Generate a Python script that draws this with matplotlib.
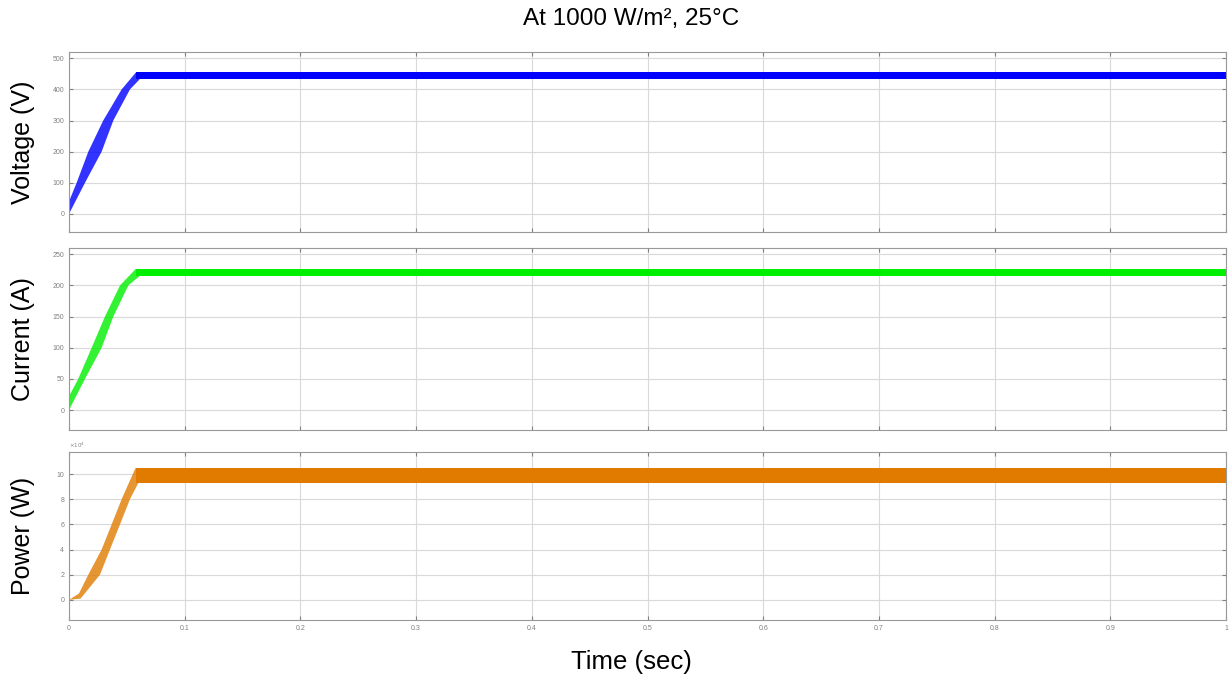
import matplotlib.pyplot as plt
import numpy as np

plt.rcParams["font.family"] = ["Liberation Sans", "DejaVu Sans"]

# envelopes of the switching ripple band
# ramp part: upper and lower edges, each with its own time points
v_t_hi = [0.0, 0.0066, 0.0167, 0.0296, 0.0455, 0.058]
v_hi = [40, 100, 200, 300, 400, 455]
v_t_lo = [0.0, 0.0138, 0.0282, 0.0383, 0.0527, 0.061]
v_lo = [0, 100, 200, 300, 400, 432]
v_steady = (432, 455)

i_t_hi = [0.0, 0.008, 0.0196, 0.0311, 0.0441, 0.058]
i_hi = [22, 50, 100, 150, 200, 227]
i_t_lo = [0.0, 0.0138, 0.0282, 0.0383, 0.0513, 0.061]
i_lo = [0, 50, 100, 150, 200, 215]
i_steady = (215, 227)

# power in units of 1e4 W
p_t_hi = [0.0, 0.0086, 0.0167, 0.0282, 0.0369, 0.0455, 0.0576]
p_hi = [0.0, 0.5, 2, 4, 6, 8, 10.5]
p_t_lo = [0.0, 0.01, 0.0268, 0.0354, 0.0441, 0.0527, 0.06]
p_lo = [0.0, 0.1, 2, 4, 6, 8, 9.3]
p_steady = (9.3, 10.5)

t_end = 1.0
x_ticks = [0, 0.1, 0.2, 0.3, 0.4, 0.5, 0.6, 0.7, 0.8, 0.9, 1]
x_labels = ["0", "0.1", "0.2", "0.3", "0.4", "0.5", "0.6", "0.7", "0.8", "0.9", "1"]


def draw_band(ax, t_hi, hi, t_lo, lo, steady, color):
    # ramp: polygon going along the upper edge and back along the lower edge
    xs = list(t_hi) + list(t_lo)[::-1]
    ys = list(hi) + list(lo)[::-1]
    ax.fill(xs, ys, color=color, alpha=0.8, linewidth=0)
    # steady state ripple band
    ax.fill_between([t_hi[-1], t_end], [steady[0]] * 2, [steady[1]] * 2,
                    color=color, linewidth=0)


def style_axes(ax, ylim, yticks):
    ax.set_xlim(0, 1)
    ax.set_ylim(*ylim)
    ax.set_yticks(yticks)
    ax.set_xticks(x_ticks)
    ax.grid(True, color="#d9d9d9", linewidth=0.8)
    ax.set_axisbelow(True)
    ax.tick_params(direction="in", length=3, labelsize=5, colors="#808080",
                   top=True, right=True)
    for s in ax.spines.values():
        s.set_color("#999999")
        s.set_linewidth(0.8)


fig = plt.figure(figsize=(12.3, 6.81), dpi=100)
W, H = 1230, 681
left, right = 69 / W, 1226 / W
boxes = [(52, 232), (248, 430), (452, 620)]
axes = []
for top, bot in boxes:
    axes.append(fig.add_axes([left, 1 - bot / H, right - left, (bot - top) / H]))

ax_v, ax_i, ax_p = axes

draw_band(ax_v, v_t_hi, v_hi, v_t_lo, v_lo, v_steady, "#0000ff")
style_axes(ax_v, (-58, 520), [0, 100, 200, 300, 400, 500])
ax_v.set_xticklabels([])
ax_v.set_ylabel("Voltage (V)", fontsize=18)

draw_band(ax_i, i_t_hi, i_hi, i_t_lo, i_lo, i_steady, "#00ee00")
style_axes(ax_i, (-32, 260), [0, 50, 100, 150, 200, 250])
ax_i.set_xticklabels([])
ax_i.set_ylabel("Current (A)", fontsize=18)

draw_band(ax_p, p_t_hi, p_hi, p_t_lo, p_lo, p_steady, "#e07b00")
style_axes(ax_p, (-1.6, 11.75), [0, 2, 4, 6, 8, 10])
ax_p.set_xticklabels(x_labels)
ax_p.set_ylabel("Power (W)", fontsize=18)
ax_p.text(0, 1.01, r"$\times10^4$", transform=ax_p.transAxes, fontsize=4,
          color="#808080", va="bottom")

for ax in axes:
    ax.yaxis.set_label_coords(-0.029, 0.5)

fig.text(0.513, 0.972, "At 1000 W/m², 25°C", ha="center", va="center", fontsize=17.5)
fig.text(0.513, 0.028, "Time (sec)", ha="center", va="center", fontsize=18.5)

fig.savefig("out.png", dpi=100)
